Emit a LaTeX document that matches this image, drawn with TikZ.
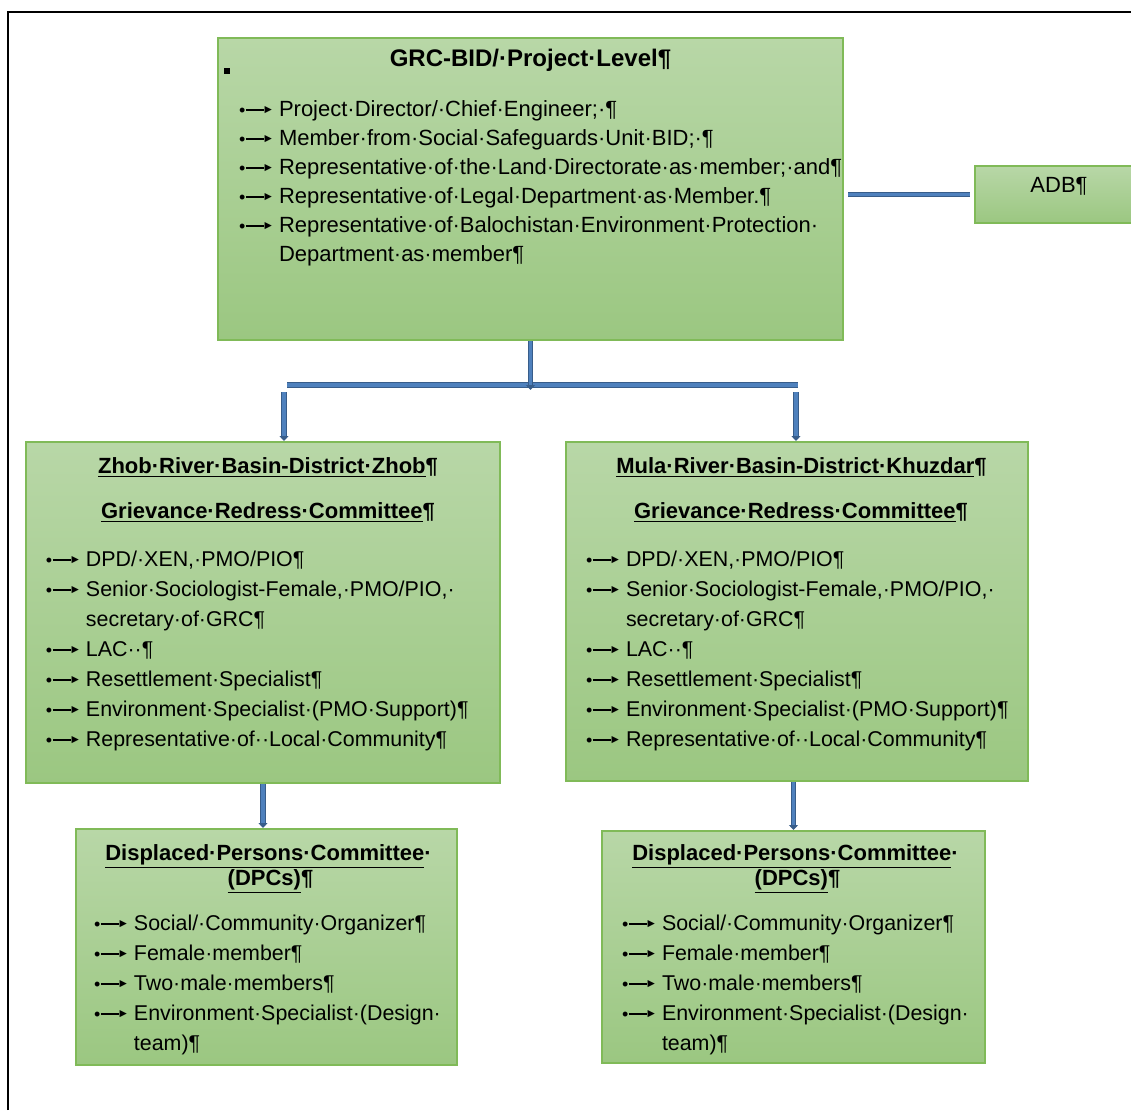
\documentclass[tikz,border=0pt]{standalone}
\usepackage{fontspec}
\setmainfont{Liberation Sans}
\usetikzlibrary{arrows.meta}

\definecolor{boxtop}{RGB}{184,215,167}
\definecolor{boxbot}{RGB}{155,199,129}
\definecolor{boxline}{RGB}{128,186,88}
\definecolor{linkfill}{RGB}{79,129,189}
\definecolor{linkedge}{RGB}{56,93,138}

\newcommand{\bmark}{{\fontsize{9}{9}\selectfont•}\kern0.3pt\rule[2.7pt]{9pt}{0.8pt}\kern-0.8pt\raisebox{1.2pt}{\fontsize{6}{6}\selectfont►}}
\newcommand{\bitem}[1]{\par\noindent\makebox[20pt][l]{\bmark}#1}
\newcommand{\bcont}[1]{\par\noindent\hspace*{20pt}#1}
\newcommand{\btitle}[1]{{\centering\bfseries\fontsize{11}{15}\selectfont #1\par}}
\newcommand{\dpctitle}{{\centering\bfseries\fontsize{11}{12.5}\selectfont
    \hspace*{2pt}\underline{Displaced·Persons·Committee}·\\\hspace*{4pt}\underline{(DPCs)}¶\par}}

\begin{document}
\begin{tikzpicture}[x=0.5pt, y=-0.5pt,
    orgbox/.style={draw=boxline, line width=1pt, top color=boxtop, bottom color=boxbot,
        anchor=north west, align=left, inner ysep=0pt, font=\fontsize{10.7}{15}\selectfont},
    link/.style={draw=linkedge, double=linkfill, double distance=1.6pt, line width=0.6pt},
    linkarrow/.style={link, -{Triangle[length=2.5pt, width=4.5pt]}}]
    \useasboundingbox (0,0) rectangle (1131,1110);
    \clip (0,0) rectangle (1131,1110);

    % Frame
    \draw[line width=1pt] (8,1110) -- (8,12) -- (1131,12);

    % Project level
    \node[orgbox, minimum width=312.5pt, text width=291.5pt, inner xsep=10.5pt,
        text height=14pt, text depth=137pt, font=\fontsize{11}{14.5}\selectfont] (grc) at (217,37) {
        \btitle{\fontsize{12}{15}\selectfont GRC-BID/·Project·Level¶}
        \vspace{10.5pt}
        \bitem{Project·Director/·Chief·Engineer;·¶}
        \bitem{Member·from·Social·Safeguards·Unit·BID;·¶}
        \bitem{Representative·of·the·Land·Directorate·as·member;·and¶}
        \bitem{Representative·of·Legal·Department·as·Member.¶}
        \bitem{Representative·of·Balochistan·Environment·Protection·}
        \bcont{Department·as·member¶}};
    \node[fill=black, minimum size=3pt, inner sep=0pt] (mark) at (227,71) {};

    \node[orgbox, align=center, minimum width=84pt, inner xsep=0pt, font=\fontsize{11}{15}\selectfont,
        text height=13pt, text depth=15.5pt] (adb) at (974,165) {ADB¶};

    % District committees
    \node[orgbox, minimum width=237pt, text width=217pt, inner xsep=10pt,
        text height=15.5pt, text depth=155pt] (zhob) at (25,441) {
        \btitle{\hspace*{5pt}\underline{Zhob·River·Basin-District·Zhob}¶}
        \vspace{7.5pt}
        \btitle{\hspace*{5pt}\underline{Grievance·Redress·Committee}¶}
        \vspace{9pt}
        \bitem{DPD/·XEN,·PMO/PIO¶}
        \bitem{Senior·Sociologist-Female,·PMO/PIO,·}
        \bcont{secretary·of·GRC¶}
        \bitem{LAC··¶}
        \bitem{Resettlement·Specialist¶}
        \bitem{Environment·Specialist·(PMO·Support)¶}
        \bitem{Representative·of··Local·Community¶}};

    \node[orgbox, minimum width=231pt, text width=211pt, inner xsep=10pt,
        text height=15.5pt, text depth=154pt] (mula) at (565,441) {
        \btitle{\hspace*{4.5pt}\underline{Mula·River·Basin-District·Khuzdar}¶}
        \vspace{7.5pt}
        \btitle{\hspace*{4pt}\underline{Grievance·Redress·Committee}¶}
        \vspace{9pt}
        \bitem{DPD/·XEN,·PMO/PIO¶}
        \bitem{Senior·Sociologist-Female,·PMO/PIO,·}
        \bcont{secretary·of·GRC¶}
        \bitem{LAC··¶}
        \bitem{Resettlement·Specialist¶}
        \bitem{Environment·Specialist·(PMO·Support)¶}
        \bitem{Representative·of··Local·Community¶}};

    % Displaced persons committees
    \node[orgbox, minimum width=190.5pt, text width=172.5pt, inner xsep=9pt,
        text height=15.5pt, text depth=102.5pt] (dpcL) at (75,828) {
        \dpctitle
        \vspace{7.5pt}
        \bitem{Social/·Community·Organizer¶}
        \bitem{Female·member¶}
        \bitem{Two·male·members¶}
        \bitem{Environment·Specialist·(Design·}
        \bcont{team)¶}};

    \node[orgbox, minimum width=191.5pt, text width=171.5pt, inner xsep=10pt,
        text height=14.5pt, text depth=101.5pt] (dpcR) at (601,830) {
        \dpctitle
        \vspace{7.5pt}
        \bitem{Social/·Community·Organizer¶}
        \bitem{Female·member¶}
        \bitem{Two·male·members¶}
        \bitem{Environment·Specialist·(Design·}
        \bcont{team)¶}};

    % Connectors
    \coordinate (busL) at (287,385);
    \coordinate (busR) at (798,385);
    \coordinate (dropL) at (284,392);
    \coordinate (dropR) at (796,392);
    \draw[link] (busL) -- (busR);
    \draw[linkarrow, shorten >=-2.5pt] (grc.south) -- (grc.south |- busL);
    \draw[linkarrow] (dropL) -- (dropL |- zhob.north);
    \draw[linkarrow] (dropR) -- (dropR |- mula.north);
    \draw[linkarrow] (zhob.south) -- (zhob.south |- dpcL.north);
    \draw[linkarrow] (dpcR.north |- mula.south) -- (dpcR.north);
    \draw[link, shorten <=2pt, shorten >=2pt] (grc.east |- adb.west) -- (adb.west);
\end{tikzpicture}
\end{document}
